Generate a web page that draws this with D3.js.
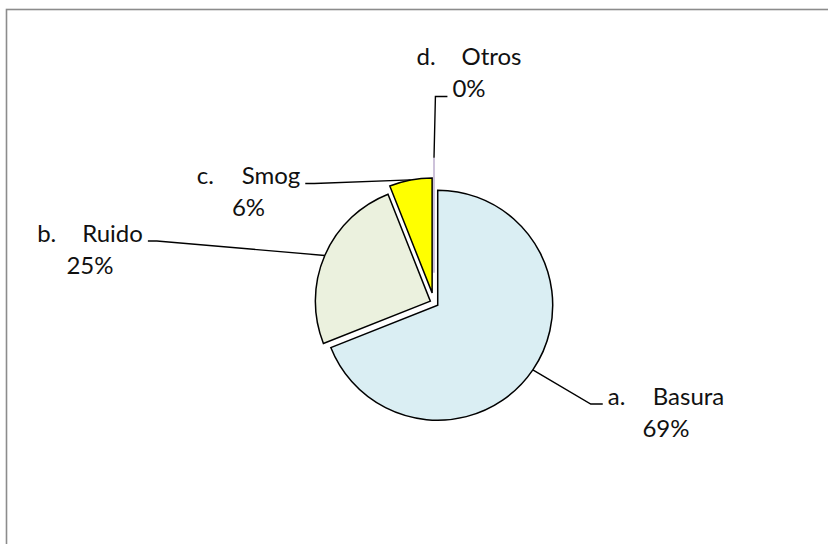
<!DOCTYPE html>
<html>
<head>
<meta charset="utf-8">
<script src="https://cdn.jsdelivr.net/npm/d3@7"></script>
<style>
  html, body { margin: 0; padding: 0; background: #fff; }
  svg { display: block; }
  text { font-family: Lato, "Noto Sans", sans-serif; fill: #111; }
</style>
</head>
<body>
<svg id="chart" width="828" height="544"></svg>
<script>
// ---- data ----
const prefixes = ["a.", "b.", "c.", "d."];
const categories = ["Basura", "Ruido", "Smog", "Otros"];
const values = [69, 25, 6, 0];

// ---- style / layout ----
const colors = ["#DAEEF3", "#EBF1DE", "#FFFF00", "#B3A2C7"];
const explode = [4.5, 4, 10, 30];
const labelCenters = [[666, 404.5], [90, 241.5], [248.5, 184], [469, 65]];
const leaderSide = ["left", "right", "right", "left"];
const leaderLine = [0, 0, 0, 1];

const W = 828, H = 544;
const cx = 434, cy = 302.7, R = 115;
const fontSize = 24, lineGap = 32, tabGap = 45;

const svg = d3.select("#chart");

// chart frame
svg.append("rect")
  .attr("x", 6.5).attr("y", 9.5)
  .attr("width", W + 20).attr("height", H + 20)
  .attr("fill", "#fff")
  .attr("stroke", "#8c8c8c").attr("stroke-width", 1.6);

const pie = d3.pie().sort(null).value(d => d);
const arcs = pie(values);
const arc = d3.arc().innerRadius(0).outerRadius(R);
const total = d3.sum(values);
const pct = d3.format(".0%");

function offset(a, d) {
  const m = (a.startAngle + a.endAngle) / 2;
  return [d * Math.sin(m), -d * Math.cos(m)];
}

const g = svg.append("g").attr("transform", `translate(${cx},${cy})`);

// slices
g.selectAll("path.slice")
  .data(arcs)
  .join("path")
  .attr("class", "slice")
  .attr("transform", (a, i) => { const o = offset(a, explode[i]); return `translate(${o[0]},${o[1]})`; })
  .attr("d", arc)
  .attr("fill", (a, i) => a.value > 0 ? colors[i] : "none")
  .attr("stroke", (a, i) => a.value > 0 ? "#000" : colors[i])
  .attr("stroke-width", (a, i) => a.value > 0 ? 1.5 : 1.3)
  .attr("stroke-linejoin", "miter");

// labels
const labelG = svg.append("g");
arcs.forEach((a, i) => {
  const [lx, ly] = labelCenters[i];
  const lg = labelG.append("g");
  const t1 = lg.append("g");
  t1.append("text").attr("x", 0).attr("y", 0).attr("font-size", fontSize).text(prefixes[i]);
  t1.append("text").attr("x", tabGap).attr("y", 0).attr("font-size", fontSize).text(categories[i]);
  const w1 = t1.node().getBBox().width;
  t1.attr("transform", `translate(${lx - w1 / 2},${ly})`);
  const t2 = lg.append("text")
    .attr("x", lx).attr("y", ly + lineGap)
    .attr("text-anchor", "middle")
    .attr("font-size", fontSize)
    .text(pct(values[i] / total));
  const w2 = t2.node().getComputedTextLength();

  // leader line
  const lineW = leaderLine[i] === 0 ? w1 : w2;
  const yL = ly + leaderLine[i] * lineGap - 0.5;
  let x0, x1;
  if (leaderSide[i] === "left") { x0 = lx - lineW / 2 - 5; x1 = x0 - 12; }
  else { x0 = lx + lineW / 2 + 5; x1 = x0 + 9; }
  const o = offset(a, explode[i]);
  const m = (a.startAngle + a.endAngle) / 2;
  const px = cx + o[0] + R * Math.sin(m);
  const py = cy + o[1] - R * Math.cos(m);
  svg.append("path")
    .attr("d", d3.line()([[x0, yL], [x1, yL], [px, py]]))
    .attr("fill", "none")
    .attr("stroke", "#000")
    .attr("stroke-width", 1.4);
});
</script>
</body>
</html>
